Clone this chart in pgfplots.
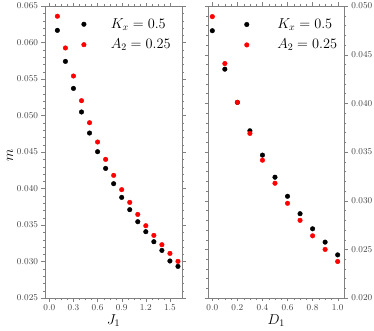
\documentclass[border=0pt]{standalone}
\usepackage{pgfplots}
\pgfplotsset{compat=1.18}

\pgfplotstableread{
x   k     a
0.1 0.06166 0.06360
0.2 0.05741 0.05925
0.3 0.05371 0.05541
0.4 0.05048 0.05203
0.5 0.04760 0.04901
0.6 0.04504 0.04637
0.7 0.04275 0.04399
0.8 0.04066 0.04180
0.9 0.03878 0.03984
1.0 0.03710 0.03810
1.1 0.03545 0.03645
1.2 0.03408 0.03490
1.3 0.03271 0.03358
1.4 0.03152 0.03230
1.5 0.03007 0.03111
1.6 0.02933 0.03002
}\jdata

\pgfplotstableread{
x   k     a
0.0 0.04746 0.04891
0.1 0.04351 0.04409
0.2 0.04010 0.04010
0.3 0.03718 0.03691
0.4 0.03468 0.03416
0.5 0.03241 0.03179
0.6 0.03045 0.02973
0.7 0.02866 0.02798
0.8 0.02711 0.02639
0.9 0.02574 0.02499
1.0 0.02443 0.02375
}\ddata

\pgfplotsset{
    panel/.style={
        scale only axis,
        width=137bp,
        height=292bp,
        axis line style={black!50},
        tick style={black!50},
        tick align=outside,
        major tick length=3.5bp,
        minor tick length=2bp,
        tick label style={font=\small, text=black!75},
        label style={font=\Large},
        /pgf/number format/fixed,
        /pgf/number format/fixed zerofill,
        scaled ticks=false,
        xlabel style={at={(axis description cs:0.5,-0.077)}, anchor=center},
    },
    pt/.style={only marks, mark=*, mark size=2.3bp},
}

\begin{document}
\begin{tikzpicture}
\path[use as bounding box] (-45bp,-33bp) rectangle (329bp,298bp);

\begin{axis}[
        panel,
        at={(0,0)}, anchor=south west,
        xmin=-0.054, xmax=1.65,
        ymin=0.025, ymax=0.065,
        xtick={0,0.3,...,1.5},
        minor x tick num=3,
        ytick={0.025,0.03,...,0.0651},
        minor y tick num=4,
        xticklabel style={/pgf/number format/precision=1},
        yticklabel style={/pgf/number format/precision=3},
        xlabel={$J_1$},
        ylabel={$m$},
        ylabel style={at={(axis description cs:-0.255,0.49)}, anchor=center},
    ]
    \addplot [pt, black] table [x=x, y=k] {\jdata};
    \addplot [pt, red] table [x=x, y=a] {\jdata};
    \addplot [pt, black] coordinates {(0.43,0.0625)};
    \addplot [pt, red] coordinates {(0.43,0.0597)};
    \node [anchor=west, font=\Large] at (axis cs:0.72,0.0625) {$K_x=0.5$};
    \node [anchor=west, font=\Large] at (axis cs:0.72,0.0597) {$A_2=0.25$};
\end{axis}

\begin{axis}[
        panel,
        width=136bp,
        at={(163.3bp,0)}, anchor=south west,
        xmin=-0.032, xmax=1.053,
        ymin=0.02, ymax=0.05,
        xtick={0,0.2,...,1.0},
        minor x tick num=3,
        ytick={0.02,0.025,...,0.0501},
        minor y tick num=4,
        yticklabel pos=right,
        xticklabel style={/pgf/number format/precision=1},
        yticklabel style={/pgf/number format/precision=3},
        xlabel={$D_1$},
    ]
    \addplot [pt, black] table [x=x, y=k] {\ddata};
    \addplot [pt, red] table [x=x, y=a] {\ddata};
    \addplot [pt, black] coordinates {(0.275,0.0481)};
    \addplot [pt, red] coordinates {(0.275,0.0460)};
    \node [anchor=west, font=\Large] at (axis cs:0.49,0.0481) {$K_x=0.5$};
    \node [anchor=west, font=\Large] at (axis cs:0.49,0.0460) {$A_2=0.25$};
\end{axis}
\end{tikzpicture}
\end{document}
